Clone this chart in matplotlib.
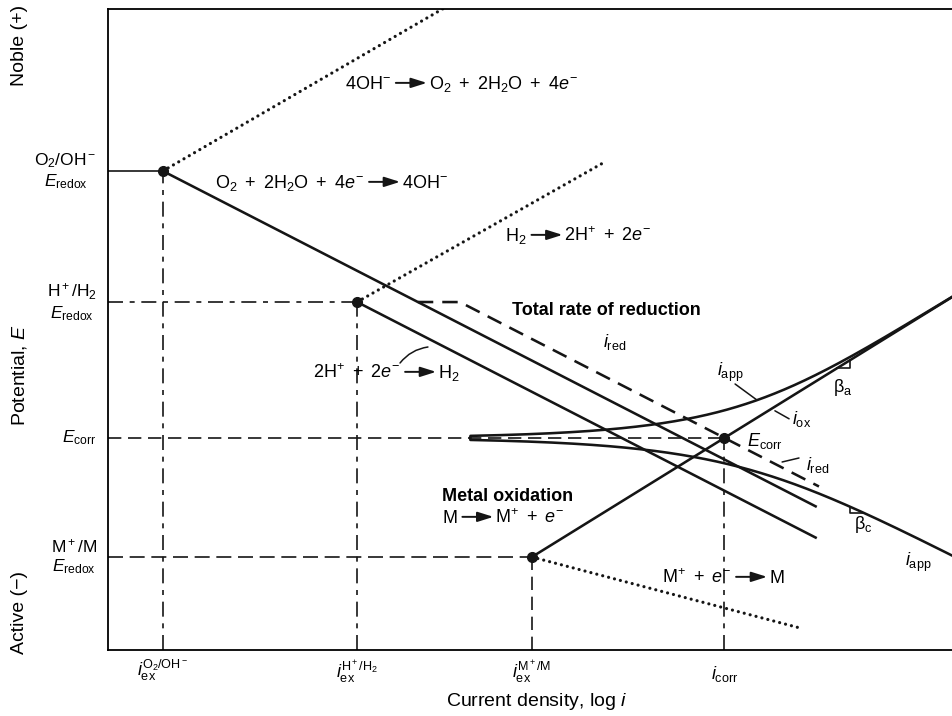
import numpy as np
import matplotlib
matplotlib.use("Agg")
import matplotlib.pyplot as plt

plt.rcParams["font.family"] = ["Liberation Sans", "DejaVu Sans"]
plt.rcParams["mathtext.fontset"] = "custom"
plt.rcParams["mathtext.rm"] = "Liberation Sans"
plt.rcParams["mathtext.it"] = "Liberation Sans:italic"
plt.rcParams["mathtext.bf"] = "Liberation Sans:bold"
plt.rcParams["mathtext.sf"] = "Liberation Sans"

# Redox couples: O2/OH-, H+/H2, M+/M
E_redox = [1.1975, 0.870, 0.2325]      # equilibrium potential (V, arbitrary reference)
log_i_ex = [0.244, 1.107, 1.884]       # exchange current density (log i, arbitrary units)
beta_ox = [0.326, 0.318, 0.348]        # anodic Tafel slope (V / decade)
beta_red = [0.289, 0.289, 0.149]       # cathodic Tafel slope (V / decade)
ox_end = [1.60, 2.20, 3.80]            # last log i drawn on each anodic branch
red_end = [3.15, 3.15, 3.08]           # last log i drawn on each cathodic branch
total_red_end = 3.16                   # last log i of the summed reduction curve
cusp_log_i = 1.61                      # where the applied-current branches start

ex_labels = [r"$i_{\mathrm{ex}}^{\mathrm{O_2/OH^-}}$",
             r"$i_{\mathrm{ex}}^{\mathrm{H^+/H_2}}$",
             r"$i_{\mathrm{ex}}^{\mathrm{M^+/M}}$"]
couple_labels = ["$\\mathrm{O_2/OH^-}$\n$E_{\\mathrm{redox}}$",
                 "$\\mathrm{H^+/H_2}$\n$E_{\\mathrm{redox}}$",
                 "$\\mathrm{M^+/M}$\n$E_{\\mathrm{redox}}$"]


def logi_ox(k, E):
    return log_i_ex[k] + (np.asarray(E, float) - E_redox[k]) / beta_ox[k]


def logi_red(k, E):
    return log_i_ex[k] + (E_redox[k] - np.asarray(E, float)) / beta_red[k]


def e_ox(k, x):
    return E_redox[k] + beta_ox[k] * (np.asarray(x, float) - log_i_ex[k])


def e_red(k, x):
    return E_redox[k] - beta_red[k] * (np.asarray(x, float) - log_i_ex[k])


def logi_red_total(E):
    """Oxygen reduction plus hydrogen evolution (below its redox potential)."""
    E = np.asarray(E, float)
    tot = 10.0 ** logi_red(0, E)
    h2 = np.where(E <= E_redox[1], 10.0 ** logi_red(1, np.minimum(E, E_redox[1])), 0.0)
    return np.log10(tot + h2)


# corrosion potential: metal oxidation = total reduction
E_grid = np.linspace(E_redox[2], E_redox[1], 200001)
f = logi_ox(2, E_grid) - logi_red_total(E_grid)
j = np.where(np.diff(np.sign(f)) != 0)[0][0]
E_corr = E_grid[j] - f[j] * (E_grid[j + 1] - E_grid[j]) / (f[j + 1] - f[j])
log_i_corr = float(logi_ox(2, E_corr))

fig = plt.figure(figsize=(9.52, 7.16), dpi=100)
ax = fig.add_axes([0.1134, 0.0922, 0.8866, 0.8952])
ax.set_xlim(0, 3.751)
ax.set_ylim(0, 1.6025)
ax.set_xticks([])
ax.set_yticks([])
ax.spines["right"].set_visible(False)
for s in ("left", "top", "bottom"):
    ax.spines[s].set_linewidth(1.3)

K = "#151515"
LW = 1.85
THIN = 1.2
dotted = dict(color=K, lw=2.3, linestyle=(0, (0.01, 1.9)), dash_capstyle="round")

# equilibrium guides
ax.plot([0, log_i_ex[0]], [E_redox[0]] * 2, color=K, lw=THIN)
ax.plot([0, log_i_ex[1]], [E_redox[1]] * 2, color=K, lw=THIN, linestyle=(0, (9, 4, 3, 4)))
ax.plot([0, log_i_ex[2]], [E_redox[2]] * 2, color=K, lw=THIN, linestyle=(0, (9, 4)))
ax.plot([0, log_i_corr], [E_corr] * 2, color=K, lw=THIN, linestyle=(0, (8, 4)))
ax.plot([log_i_ex[0]] * 2, [0, E_redox[0]], color=K, lw=THIN, linestyle=(0, (9, 4, 3, 4)))
ax.plot([log_i_ex[1]] * 2, [0, E_redox[1]], color=K, lw=THIN, linestyle=(0, (9, 4, 3, 4)))
ax.plot([log_i_ex[2]] * 2, [0, E_redox[2]], color=K, lw=THIN, linestyle=(0, (8, 4)))
ax.plot([log_i_corr] * 2, [0, E_corr], color=K, lw=THIN, linestyle=(0, (9, 4, 3, 4)))

# Tafel lines: solid = drawn branch, dotted = reverse reaction
for k in (0, 1):
    xs = np.array([log_i_ex[k], red_end[k]])
    ax.plot(xs, e_red(k, xs), color=K, lw=LW, solid_capstyle="butt")
    xs = np.array([log_i_ex[k], ox_end[k]])
    ax.plot(xs, e_ox(k, xs), **dotted)
xs = np.array([log_i_ex[2], ox_end[2]])
ax.plot(xs, e_ox(2, xs), color=K, lw=LW, solid_capstyle="butt")
xs = np.array([log_i_ex[2], red_end[2]])
ax.plot(xs, e_red(2, xs), **dotted)

# total rate of reduction
E_t = np.linspace(E_redox[1], 0.2, 4000)
x_t = logi_red_total(E_t)
keep = x_t <= total_red_end
x_tot = np.concatenate([[logi_red(0, E_redox[1])], x_t[keep]])
E_tot = np.concatenate([[E_redox[1]], E_t[keep]])
ax.plot(x_tot, E_tot, color=K, lw=1.85, linestyle=(0, (6, 3.5)))

# applied (net) current
dE = np.geomspace(1e-7, 0.7, 6000)
E_an = E_corr + dE
x_an = np.log10(10.0 ** logi_ox(2, E_an) - 10.0 ** logi_red_total(E_an))
E_ca = E_corr - dE
x_ca = np.log10(10.0 ** logi_red_total(E_ca) - 10.0 ** logi_ox(2, E_ca))
m = x_an >= cusp_log_i
ax.plot(np.r_[cusp_log_i, x_an[m]], np.r_[E_corr, E_an[m]], color=K, lw=LW)
m = x_ca >= cusp_log_i
ax.plot(np.r_[cusp_log_i, x_ca[m]], np.r_[E_corr, E_ca[m]], color=K, lw=LW)

# redox and corrosion points
ax.plot(log_i_ex, E_redox, "o", color=K, ms=7, zorder=5)
ax.plot([log_i_corr], [E_corr], "o", color=K, ms=7, zorder=5)

# Tafel slope triangles
xa = np.array([3.24, 3.298])
ea = e_ox(2, xa)
ax.plot([xa[0], xa[1], xa[1]], [ea[0], ea[0], ea[1]], color=K, lw=THIN)
xc = np.array([3.298, 3.356])
order = np.argsort(x_ca)
ec = np.interp(xc, x_ca[order], E_ca[order])
ax.plot([xc[0], xc[0], xc[1]], [ec[0], ec[1], ec[1]], color=K, lw=THIN)

FS = 13
renderer = fig.canvas.get_renderer()


def reaction(x, y, left, right, fs=FS):
    """Write 'left -> right' with a filled-head arrow between the two sides."""
    t1 = ax.text(x, y, left, fontsize=fs, va="baseline", ha="left")
    bb = t1.get_window_extent(renderer)
    px0, py0 = ax.transData.transform((x, y))
    a0 = bb.x1 + 5
    a1 = a0 + 31
    ay = py0 + 0.34 * fs * 100 / 72
    inv = ax.transData.inverted()
    ax.annotate("", xy=inv.transform((a1, ay)), xytext=inv.transform((a0, ay)),
                arrowprops=dict(arrowstyle="-|>,head_length=0.95,head_width=0.3",
                                lw=1.4, color=K, shrinkA=0, shrinkB=0,
                                mutation_scale=10))
    xr, _ = inv.transform((a1 + 2, py0))
    ax.text(xr, y, right, fontsize=fs, va="baseline", ha="left")


reaction(1.053, 1.4025, r"$4\mathrm{OH}^{-}$",
         r"$\mathrm{O_2}\ +\ 2\mathrm{H_2O}\ +\ 4e^{-}$")
reaction(0.476, 1.155, r"$\mathrm{O_2}\ +\ 2\mathrm{H_2O}\ +\ 4e^{-}$",
         r"$4\mathrm{OH}^{-}$")
reaction(1.764, 1.0225, r"$\mathrm{H_2}$", r"$2\mathrm{H}^{+}\ +\ 2e^{-}$")
reaction(0.911, 0.68, r"$2\mathrm{H}^{+}\ +\ 2e^{-}$", r"$\mathrm{H_2}$")
reaction(1.484, 0.3175, r"$\mathrm{M}$", r"$\mathrm{M}^{+}\ +\ e^{-}$")
reaction(2.462, 0.1675, r"$\mathrm{M}^{+}\ +\ e^{-}$", r"$\mathrm{M}$")

ax.text(1.796, 0.85, "Total rate of reduction", fontsize=FS, fontweight="bold",
        va="center", ha="left")
ax.text(1.484, 0.3825, "Metal oxidation", fontsize=FS, fontweight="bold",
        va="center", ha="left")

ax.annotate("", xy=(1.422, 0.7575), xytext=(1.298, 0.7175),
            arrowprops=dict(arrowstyle="-", lw=1.1, color=K, shrinkA=0, shrinkB=0,
                            connectionstyle="arc3,rad=-0.2"))
ax.text(2.20, 0.77, r"$i_{\mathrm{red}}$", fontsize=FS, va="center", ha="left")
ax.text(2.707, 0.695, r"$i_{\mathrm{app}}$", fontsize=FS, va="center", ha="left")
ax.annotate("", xy=(2.884, 0.625), xytext=(2.787, 0.665),
            arrowprops=dict(arrowstyle="-", lw=1.1, color=K, shrinkA=0, shrinkB=0))
ax.text(3.267, 0.655, r"$\mathrm{\beta}_{\mathrm{a}}$", fontsize=FS, va="center", ha="center")
ax.text(3.04, 0.5775, r"$i_{\mathrm{ox}}$", fontsize=FS, va="center", ha="left")
ax.annotate("", xy=(2.964, 0.598), xytext=(3.027, 0.578),
            arrowprops=dict(arrowstyle="-", lw=1.1, color=K, shrinkA=0, shrinkB=0))
ax.text(log_i_corr + 0.10, E_corr - 0.008, r"$E_{\mathrm{corr}}$", fontsize=FS,
        va="center", ha="left")
ax.text(3.102, 0.4625, r"$i_{\mathrm{red}}$", fontsize=FS, va="center", ha="left")
ax.annotate("", xy=(2.996, 0.47), xytext=(3.071, 0.48),
            arrowprops=dict(arrowstyle="-", lw=1.1, color=K, shrinkA=0, shrinkB=0))
ax.text(3.356, 0.3125, r"$\mathrm{\beta}_{\mathrm{c}}$", fontsize=FS, va="center", ha="center")
ax.text(3.542, 0.22, r"$i_{\mathrm{app}}$", fontsize=FS, va="center", ha="left")

# potential labels on the left
ytr = ax.get_yaxis_transform()
for E, lab in zip(E_redox, couple_labels):
    ax.annotate(lab, xy=(0, E), xycoords=ytr, xytext=(-8, 0), textcoords="offset points",
                ha="right", va="center", multialignment="center", fontsize=12.5,
                linespacing=1.15)
ax.annotate(r"$E_{\mathrm{corr}}$", xy=(0, E_corr), xycoords=ytr, xytext=(-8, 0),
            textcoords="offset points", ha="right", va="center", fontsize=12.5)

# current labels along the bottom
xtr = ax.get_xaxis_transform()
for x, lab in zip(log_i_ex, ex_labels):
    ax.annotate(lab, xy=(x, 0), xycoords=xtr, xytext=(0, -6), textcoords="offset points",
                ha="center", va="top", fontsize=FS)
ax.annotate(r"$i_{\mathrm{corr}}$", xy=(log_i_corr, 0), xycoords=xtr, xytext=(0, -10),
            textcoords="offset points", ha="center", va="top", fontsize=FS)

fig.text(0.564, 0.02, r"Current density, log $i$", fontsize=14, ha="center", va="center")
fig.text(0.021, 0.937, "Noble (+)", fontsize=14, rotation=90, ha="center", va="center")
fig.text(0.021, 0.476, r"Potential, $E$", fontsize=14, rotation=90, ha="center", va="center")
fig.text(0.021, 0.145, "Active (\u2212)", fontsize=14, rotation=90, ha="center", va="center")

fig.savefig("out.png", dpi=100, facecolor="white")
